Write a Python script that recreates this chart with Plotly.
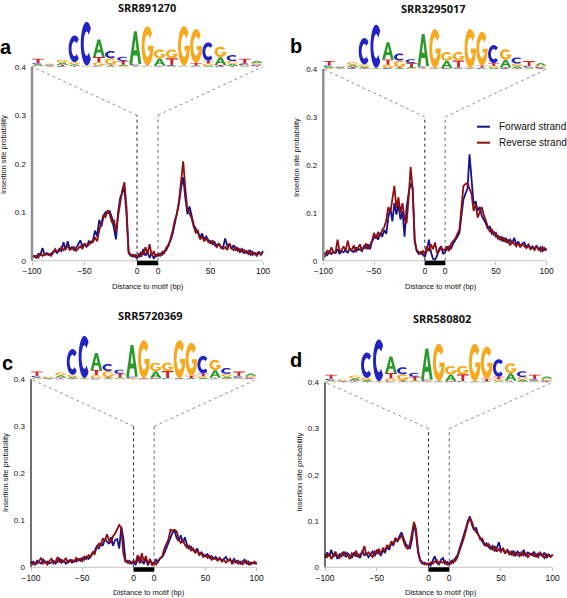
import math
import plotly.graph_objects as go

W, H = 567, 598

# ---------------- data ----------------
POSITIONS = list(range(-100, 121, 2))   # bp: -100..0 left flank, 0..20 motif, 20..120 right flank (shown 0..100)
X_TICK_VALS = [-100, -50, 0, 20, 70, 120]
X_TICK_TEXT = ["\u2212100", "\u221250", "0", "0", "50", "100"]
Y_TICK_VALS = [0, 0.1, 0.2, 0.3, 0.4]
Y_TICK_TEXT = ["0", "0.1", "0.2", "0.3", "0.4"]
SAMPLES = ["SRR891270", "SRR3295017", "SRR5720369", "SRR580802"]
PANEL_LETTERS = ["a", "b", "c", "d"]
SERIES_NAMES = ["Forward strand", "Reverse strand"]

# insertion site probability x 1000
A_FWD = [8, 10, 6, 14, 12, 26, 12, 16, 12, 14,
         18, 20, 16, 24, 20, 38, 22, 40, 24, 28,
         22, 26, 34, 42, 30, 34, 28, 40, 36, 42,
         62, 50, 84, 70, 90, 100, 98, 102, 90, 70,
         44, 100, 130, 140, 150, 96, 16, 10, 12, 8,
         6, 14, 8, 24, 10, 18, 6, 16, 4, 12,
         10, 14, 12, 20, 22, 34, 42, 56, 78, 104,
         118, 150, 172, 130, 96, 112, 92, 74, 66, 56,
         48, 56, 44, 50, 42, 40, 34, 38, 30, 36,
         26, 28, 46, 30, 34, 24, 32, 22, 26, 18,
         24, 16, 20, 14, 22, 12, 16, 14, 18, 12,
         20]
A_REV = [12, 8, 10, 6, 16, 10, 14, 12, 14, 10,
         16, 24, 18, 20, 28, 22, 26, 30, 22, 26,
         28, 20, 26, 30, 24, 36, 30, 32, 40, 38,
         48, 40, 62, 76, 94, 90, 104, 96, 80, 84,
         60, 92, 120, 146, 162, 110, 18, 12, 8, 12,
         10, 8, 18, 12, 28, 14, 34, 10, 20, 8,
         14, 10, 18, 16, 28, 30, 46, 62, 84, 96,
         124, 168, 205, 150, 104, 98, 88, 70, 58, 62,
         44, 50, 40, 46, 38, 36, 42, 32, 28, 34,
         30, 24, 28, 22, 36, 26, 22, 28, 20, 24,
         18, 22, 16, 20, 12, 18, 14, 10, 16, 14,
         16]
B_FWD = [6, 16, 12, 20, 14, 18, 16, 24, 14, 20,
         18, 22, 16, 26, 20, 18, 28, 22, 24, 20,
         30, 26, 34, 24, 40, 48, 52, 44, 58, 50,
         64, 56, 90, 110, 82, 120, 96, 118, 86, 104,
         50, 110, 140, 162, 150, 40, 20, 14, 18, 12,
         8, 22, 44, 18, 4, 2, 10, 24, 30, 14,
         18, 24, 30, 26, 36, 42, 50, 58, 96, 128,
         140, 150, 222, 166, 118, 124, 104, 112, 94, 86,
         78, 66, 72, 56, 60, 50, 52, 44, 50, 40,
         46, 38, 44, 36, 48, 34, 40, 30, 36, 38,
         28, 34, 26, 30, 24, 32, 22, 28, 20, 26,
         22]
B_REV = [12, 10, 22, 14, 28, 18, 16, 44, 20, 22,
         30, 20, 42, 24, 22, 32, 18, 26, 34, 22,
         26, 36, 24, 32, 42, 58, 46, 60, 52, 64,
         70, 84, 112, 100, 124, 156, 110, 132, 100, 120,
         86, 78, 130, 196, 150, 44, 22, 18, 14, 20,
         14, 30, 20, 34, 24, 38, 16, 20, 28, 22,
         24, 30, 20, 36, 40, 46, 56, 64, 110, 156,
         160, 162, 150, 140, 104, 118, 90, 100, 112, 96,
         84, 72, 60, 66, 54, 58, 46, 50, 42, 48,
         38, 44, 32, 40, 34, 30, 38, 28, 34, 30,
         26, 32, 24, 28, 22, 30, 24, 20, 28, 22,
         24]
C_FWD = [8, 12, 6, 14, 10, 8, 16, 10, 12, 8,
         10, 14, 8, 12, 18, 10, 14, 8, 12, 16,
         10, 14, 12, 18, 14, 20, 16, 22, 18, 24,
         28, 34, 44, 40, 52, 46, 60, 54, 50, 64,
         46, 58, 60, 40, 86, 62, 16, 10, 14, 8,
         10, 6, 16, 22, 12, 8, 18, 4, 14, 10,
         8, 16, 12, 20, 22, 30, 42, 54, 62, 74,
         78, 62, 56, 68, 52, 64, 48, 40, 44, 36,
         34, 40, 28, 32, 26, 24, 28, 20, 24, 18,
         22, 16, 20, 14, 18, 22, 14, 16, 12, 18,
         10, 14, 8, 12, 16, 8, 12, 6, 10, 8,
         10]
C_REV = [12, 6, 10, 8, 14, 20, 8, 12, 6, 14,
         18, 8, 12, 22, 10, 16, 12, 20, 10, 14,
         16, 12, 20, 14, 18, 12, 24, 18, 26, 22,
         32, 28, 42, 50, 46, 62, 56, 70, 58, 52,
         66, 72, 80, 90, 84, 30, 12, 14, 8, 10,
         14, 10, 26, 8, 30, 12, 24, 6, 18, 4,
         10, 6, 14, 18, 24, 40, 50, 60, 80, 78,
         80, 76, 60, 52, 58, 48, 42, 46, 36, 40,
         30, 36, 26, 30, 22, 26, 20, 24, 16, 20,
         18, 14, 20, 12, 16, 10, 14, 18, 8, 12,
         14, 8, 12, 6, 10, 14, 6, 10, 8, 12,
         6]
D_FWD = [20, 32, 24, 38, 22, 30, 18, 28, 24, 34,
         22, 30, 26, 20, 32, 24, 28, 20, 36, 26,
         30, 22, 28, 34, 24, 38, 30, 26, 36, 32,
         44, 38, 52, 48, 60, 56, 68, 76, 62, 50,
         46, 40, 60, 96, 70, 30, 14, 8, 10, 6,
         8, 4, 14, 24, 10, 6, 16, 20, 8, 12,
         6, 14, 10, 20, 26, 40, 52, 66, 84, 100,
         110, 92, 80, 86, 70, 64, 56, 48, 52, 44,
         40, 46, 36, 42, 54, 36, 40, 30, 38, 32,
         28, 36, 24, 34, 30, 26, 38, 24, 32, 28,
         26, 34, 22, 30, 28, 24, 32, 20, 28, 24,
         26]
D_REV = [28, 22, 30, 18, 26, 34, 24, 20, 30, 26,
         32, 24, 18, 30, 26, 36, 22, 28, 32, 46,
         26, 32, 28, 22, 34, 30, 40, 28, 42, 36,
         48, 42, 56, 50, 64, 58, 62, 70, 56, 44,
         40, 50, 74, 98, 82, 36, 16, 10, 6, 8,
         6, 10, 8, 12, 16, 8, 12, 10, 14, 6,
         10, 8, 16, 14, 22, 36, 48, 62, 78, 96,
         106, 98, 84, 76, 72, 60, 62, 50, 46, 50,
         44, 38, 46, 34, 40, 32, 42, 30, 36, 28,
         34, 26, 32, 28, 24, 34, 26, 30, 22, 28,
         30, 24, 28, 22, 32, 26, 20, 28, 24, 22,
         28]

FORWARD = [A_FWD, B_FWD, C_FWD, D_FWD]
REVERSE = [A_REV, B_REV, C_REV, D_REV]

# motif logo, information (bits) per position and base
LOGO_A = [0.05, 0.03, 0.09, 0.07, 0.02, 0.72, 0.04, 0.05, 1.35, 0.02, 0.30, 0.03, 0.02, 0.03, 0.05, 0.32, 0.09, 0.03, 0.10]
LOGO_C = [0.06, 0.03, 0.03, 1.10, 1.80, 0.04, 0.30, 0.17, 0.05, 0.01, 0.02, 0.03, 0.01, 0.02, 0.76, 0.03, 0.25, 0.06, 0.05]
LOGO_G = [0.04, 0.04, 0.12, 0.09, 0.02, 0.14, 0.26, 0.03, 0.04, 1.62, 0.37, 0.36, 1.62, 1.40, 0.08, 0.44, 0.11, 0.04, 0.07]
LOGO_T = [0.18, 0.02, 0.05, 0.03, 0.01, 0.22, 0.05, 0.16, 0.02, 0.02, 0.02, 0.29, 0.02, 0.10, 0.11, 0.04, 0.03, 0.20, 0.03]

for s in FORWARD + REVERSE:
    assert len(s) == len(POSITIONS)

# ---------------- styling / geometry ----------------
FONT = "Liberation Sans, Arial, sans-serif"
COL_FWD = "#14148f"
COL_REV = "#8d0f0f"
LETTER_COL = {"A": "#2a9a2a", "C": "#2323c4", "G": "#f6a91f", "T": "#d22222"}
LOGO_BASE = 0.4
LOGO_SCALE = 0.05     # data units per bit
X_LO, X_HI = -100, 120
XR = [-103, 123]
YR = [-0.015, 0.5]

# pixel geometry per panel: x of -100, x of right 100, y of 0, y of 0.4
GEOM = [(32, 263, 260.7, 66.7),
        (323.3, 546.7, 260.7, 69.0),
        (31, 256.7, 567.3, 379.3),
        (325, 552.7, 567.3, 382.3)]
AXIS_STYLE = [("#8c8c8c", 2.4), ("#8c8c8c", 2.4), ("#111111", 1.2), ("#111111", 1.2)]
TITLE_POS = [(147, 8), (433, 9), (150, 315), (442, 318.5)]
LETTER_POS = [(6, 47), (296, 46), (7, 363), (296, 360)]
YTITLE_POS = [(4, 155), (296, 158), (5, 473), (298.5, 472)]
XTITLE_POS = [(148, 286), (441, 286.5), (149, 592.5), (441, 592.5)]
LEGEND_ROWS = [126.7, 142.7]          # y px of legend rows (panel b)
LEGEND_X = (477, 490, 497)            # sample line start/end, text start


def unit_arc(cx, cy, rx, ry, a0, a1, n=24):
    pts = []
    for i in range(n):
        a = math.radians(a0 + (a1 - a0) * i / (n - 1))
        pts.append((cx + rx * math.cos(a), cy + ry * math.sin(a)))
    return pts


GLYPHS = {
    "A": [[(0, 0), (0.38, 1), (0.62, 1), (1, 0), (0.76, 0), (0.67, 0.26), (0.33, 0.26), (0.24, 0)],
          [(0.39, 0.42), (0.61, 0.42), (0.5, 0.76)]],
    "C": [unit_arc(0.5, 0.5, 0.5, 0.5, 45, 315) + unit_arc(0.5, 0.5, 0.25, 0.28, 315, 45)],
    "G": [unit_arc(0.5, 0.5, 0.5, 0.5, 40, 360) + [(0.55, 0.5), (0.55, 0.37)]
          + unit_arc(0.5, 0.5, 0.25, 0.28, 335, 40)],
    "T": [[(0, 1), (1, 1), (1, 0.82), (0.62, 0.82), (0.62, 0), (0.38, 0), (0.38, 0.82), (0, 0.82)]],
}


def glyph_path(letter, x0, x1, y0, y1):
    parts = []
    for poly in GLYPHS[letter]:
        pts = ["%.4f,%.5f" % (x0 + u * (x1 - x0), y0 + v * (y1 - y0)) for u, v in poly]
        parts.append("M" + " L".join(pts) + " Z")
    return " ".join(parts)


def px2paper_x(px):
    return px / W


def px2paper_y(py):
    return 1 - py / H


fig = go.Figure()
layout = dict(width=W, height=H, margin=dict(l=0, r=0, t=0, b=0, autoexpand=False),
              paper_bgcolor="white", plot_bgcolor="white", showlegend=False)
shapes, annotations = [], []

n_pos = len(LOGO_A)
col_w = (X_HI - X_LO) / n_pos

for p in range(4):
    x0p, x1p, y0p, y4p = GEOM[p]
    s = (x1p - x0p) / (X_HI - X_LO)
    k = (y0p - y4p) / 0.4
    dom_x = [px2paper_x(x0p + (XR[0] - X_LO) * s), px2paper_x(x1p + (XR[1] - X_HI) * s)]
    top_px = y4p - (YR[1] - 0.4) * k
    bot_px = y0p - YR[0] * k
    dom_y = [px2paper_y(bot_px), px2paper_y(top_px)]
    sfx = "" if p == 0 else str(p + 1)
    xa, ya = "x" + sfx, "y" + sfx

    layout["xaxis" + sfx] = dict(domain=dom_x, range=XR, anchor="free", position=px2paper_y(y0p),
                                 showgrid=False, zeroline=False, showline=False, automargin=False,
                                 tickvals=X_TICK_VALS, ticktext=X_TICK_TEXT, ticks="outside",
                                 ticklen=3, tickcolor="#bdbdbd", tickwidth=1, ticklabelstandoff=-1,
                                 tickfont=dict(family=FONT, size=8.5, color="#111"))
    layout["yaxis" + sfx] = dict(domain=dom_y, range=YR, anchor=xa, showgrid=False, zeroline=False,
                                 showline=False, tickvals=Y_TICK_VALS, ticktext=Y_TICK_TEXT,
                                 ticks="", ticklabelstandoff=2, automargin=False,
                                 tickfont=dict(family=FONT, size=8, color="#111"))

    for series, col, name in ((FORWARD[p], COL_FWD, SERIES_NAMES[0]), (REVERSE[p], COL_REV, SERIES_NAMES[1])):
        fig.add_trace(go.Scatter(x=POSITIONS, y=[v / 1000 for v in series], mode="lines",
                                 line=dict(color=col, width=1.8), name=name,
                                 showlegend=False, xaxis=xa, yaxis=ya, hoverinfo="skip"))

    acol, aw = AXIS_STYLE[p]
    # axes lines
    shapes.append(dict(type="line", xref=xa, yref=ya, x0=X_LO, x1=X_HI, y0=0, y1=0,
                       line=dict(color="#c4c4c4", width=1), layer="below"))
    shapes.append(dict(type="line", xref=xa, yref=ya, x0=X_LO, x1=X_LO, y0=0, y1=0.4,
                       line=dict(color=acol, width=aw)))
    # motif block under the axis
    shapes.append(dict(type="rect", xref=xa, yref=ya, x0=0, x1=20, y0=-0.0095, y1=0,
                       fillcolor="black", line=dict(width=0)))
    # zoom guide lines
    shapes.append(dict(type="line", xref=xa, yref=ya, x0=0, x1=0, y0=0, y1=0.3,
                       line=dict(color="#222222", width=1, dash="dot"), layer="below"))
    shapes.append(dict(type="line", xref=xa, yref=ya, x0=20, x1=20, y0=0, y1=0.3,
                       line=dict(color="#666666", width=1, dash="dot"), layer="below"))
    shapes.append(dict(type="line", xref=xa, yref=ya, x0=0, x1=X_LO, y0=0.3, y1=0.4,
                       line=dict(color="#8e8eb0", width=1, dash="dot"), layer="below"))
    shapes.append(dict(type="line", xref=xa, yref=ya, x0=20, x1=X_HI, y0=0.3, y1=0.4,
                       line=dict(color="#8e8eb0", width=1, dash="dot"), layer="below"))

    # sequence logo
    for i in range(n_pos):
        stack = sorted([("A", LOGO_A[i]), ("C", LOGO_C[i]), ("G", LOGO_G[i]), ("T", LOGO_T[i])],
                       key=lambda t: t[1])
        base = LOGO_BASE
        cx0 = X_LO + i * col_w + 0.01 * col_w
        cx1 = X_LO + (i + 1) * col_w - 0.01 * col_w
        for letter, bits in stack:
            h = bits * LOGO_SCALE
            shapes.append(dict(type="path", xref=xa, yref=ya,
                               path=glyph_path(letter, cx0, cx1, base, base + h),
                               fillcolor=LETTER_COL[letter], line=dict(width=0)))
            base += h

    # texts
    tx, ty = TITLE_POS[p]
    annotations.append(dict(text="<b>%s</b>" % SAMPLES[p], x=px2paper_x(tx), y=px2paper_y(ty),
                            xref="paper", yref="paper", showarrow=False, xanchor="center",
                            yanchor="middle", font=dict(family="Open Sans, sans-serif", size=11, color="#111")))
    lx, ly = LETTER_POS[p]
    annotations.append(dict(text="<b>%s</b>" % PANEL_LETTERS[p], x=px2paper_x(lx), y=px2paper_y(ly),
                            xref="paper", yref="paper", showarrow=False, xanchor="center",
                            yanchor="middle", font=dict(family=FONT, size=20, color="black")))
    yx, yy = YTITLE_POS[p]
    annotations.append(dict(text="Insertion site probability", x=px2paper_x(yx), y=px2paper_y(yy),
                            xref="paper", yref="paper", showarrow=False, textangle=-90,
                            xanchor="center", yanchor="middle", font=dict(family=FONT, size=7.5, color="#111")))
    xx, xy = XTITLE_POS[p]
    annotations.append(dict(text="Distance to motif (bp)",
                            x=px2paper_x(xx), y=px2paper_y(xy),
                            xref="paper", yref="paper", showarrow=False, xanchor="center",
                            yanchor="middle", font=dict(family=FONT, size=7.5, color="#111")))

# legend (panel b)
for name, col, row in zip(SERIES_NAMES, (COL_FWD, COL_REV), LEGEND_ROWS):
    shapes.append(dict(type="line", xref="paper", yref="paper",
                       x0=px2paper_x(LEGEND_X[0]), x1=px2paper_x(LEGEND_X[1]),
                       y0=px2paper_y(row), y1=px2paper_y(row), line=dict(color=col, width=2)))
    annotations.append(dict(text=name, x=px2paper_x(LEGEND_X[2]), y=px2paper_y(row),
                            xref="paper", yref="paper", showarrow=False, xanchor="left",
                            yanchor="middle", font=dict(family=FONT, size=10, color="#111")))

layout["shapes"] = shapes
layout["annotations"] = annotations
fig.update_layout(**layout)
fig.write_html("out.html", config={"displayModeBar": False},
               post_script="document.body.style.margin='0px';")
